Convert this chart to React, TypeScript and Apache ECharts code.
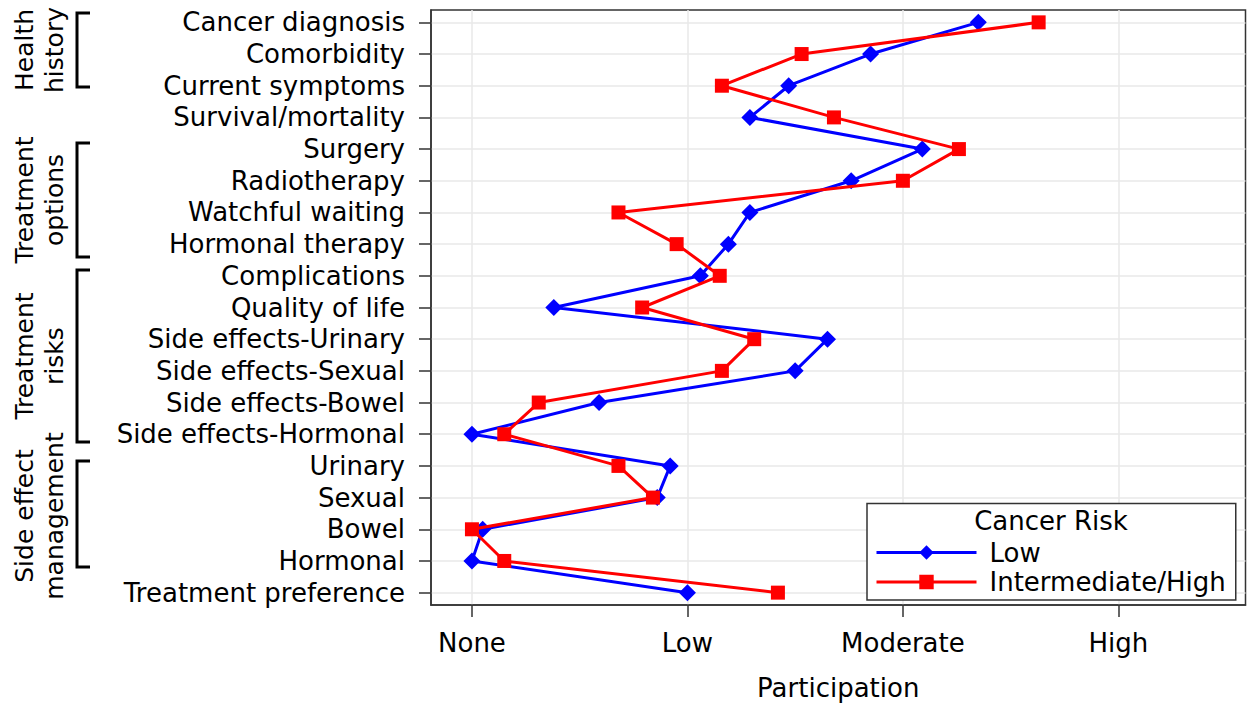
import React, { useEffect, useRef } from "react";
import * as echarts from "echarts";

const categories = [
  "Cancer diagnosis",
  "Comorbidity",
  "Current symptoms",
  "Survival/mortality",
  "Surgery",
  "Radiotherapy",
  "Watchful waiting",
  "Hormonal therapy",
  "Complications",
  "Quality of life",
  "Side effects-Urinary",
  "Side effects-Sexual",
  "Side effects-Bowel",
  "Side effects-Hormonal",
  "Urinary",
  "Sexual",
  "Bowel",
  "Hormonal",
  "Treatment preference",
];

const lowRisk = [2.35, 1.85, 1.47, 1.29, 2.09, 1.76, 1.29, 1.19, 1.06, 0.38, 1.65, 1.5, 0.59, 0.0, 0.92, 0.86, 0.05, 0.0, 1.0];
const highRisk = [2.63, 1.53, 1.16, 1.68, 2.26, 2.0, 0.68, 0.95, 1.15, 0.79, 1.31, 1.16, 0.31, 0.15, 0.68, 0.84, 0.0, 0.15, 1.42];

const xTickValues = [0, 1, 2, 3];
const xTickLabels = ["None", "Low", "Moderate", "High"];

const seriesNames = ["Low", "Intermediate/High"];
const legendTitle = "Cancer Risk";
const xAxisTitle = "Participation";

const groupLabels = ["Health\nhistory", "Treatment\noptions", "Treatment\nrisks", "Side effect\nmanagement"];

const FONT = "'DejaVu Sans', sans-serif";
const FS = 26;

export default function App() {
  const ref = useRef<HTMLDivElement>(null);

  useEffect(() => {
    document.body.style.margin = "0";
    if (!ref.current) return;
    const chart = echarts.init(ref.current, null, { renderer: "svg" });

    const catIdx = categories.map((_, i) => i);
    const lowData = lowRisk.map((v, i) => [v, i]);
    const highData = highRisk.map((v, i) => [v, i]);

    // bracket geometry (annotation layout)
    const brackets = [
      { y1: 13, y2: 87, cy: 50 },
      { y1: 143, y2: 257, cy: 200 },
      { y1: 270, y2: 442, cy: 356 },
      { y1: 461, y2: 567, cy: 516 },
    ];

    const graphics: any[] = [];
    brackets.forEach((b, i) => {
      graphics.push({
        type: "polyline",
        shape: { points: [[90, b.y1], [77, b.y1], [77, b.y2], [90, b.y2]] },
        style: { stroke: "#000", lineWidth: 3, fill: null },
        silent: true,
      });
      graphics.push({
        type: "text",
        x: 39,
        y: b.cy,
        rotation: Math.PI / 2,
        style: {
          text: groupLabels[i],
          fontFamily: FONT,
          fontSize: 25,
          lineHeight: 30,
          fill: "#000",
          align: "center",
          verticalAlign: "middle",
        },
        silent: true,
      });
    });
    graphics.push({
      type: "text",
      x: 1051,
      y: 521,
      z: 100,
      style: {
        text: legendTitle,
        fontFamily: FONT,
        fontSize: FS,
        fill: "#000",
        align: "center",
        verticalAlign: "middle",
      },
      silent: true,
    });

    chart.setOption({
      animation: false,
      backgroundColor: "#fff",
      textStyle: { fontFamily: FONT, color: "#000" },
      grid: {
        left: 431,
        right: 2.5,
        top: 10,
        bottom: 99.3,
        show: true,
        borderColor: "#333",
        borderWidth: 1.5,
        backgroundColor: "#fff",
      },
      xAxis: {
        type: "value",
        min: -0.19,
        max: 3.59,
        name: xAxisTitle,
        nameLocation: "middle",
        nameGap: 70,
        nameTextStyle: { fontFamily: FONT, fontSize: FS, color: "#000" },
        axisLine: { show: true, onZero: false, lineStyle: { color: "#333", width: 1.5 } },
        axisTick: {
          show: true,
          inside: false,
          length: 12,
          lineStyle: { color: "#333", width: 1.5 },
          customValues: xTickValues,
        },
        axisLabel: {
          customValues: xTickValues,
          margin: 25,
          fontFamily: FONT,
          fontSize: FS,
          color: "#000",
          formatter: (v: number) => xTickLabels[xTickValues.indexOf(Math.round(v))] ?? "",
        },
        splitLine: { show: true, lineStyle: { color: "#e8e8e8", width: 1.5 } },
      },
      yAxis: {
        type: "value",
        inverse: true,
        min: -0.39,
        max: 18.39,
        axisLine: { show: true, onZero: false, lineStyle: { color: "#333", width: 1.5 } },
        axisTick: {
          show: true,
          inside: false,
          length: 12,
          lineStyle: { color: "#333", width: 1.5 },
          customValues: catIdx,
        },
        axisLabel: {
          customValues: catIdx,
          margin: 26,
          fontFamily: FONT,
          fontSize: FS,
          color: "#000",
          formatter: (v: number) => categories[Math.round(v)] ?? "",
        },
        splitLine: { show: true, lineStyle: { color: "#e8e8e8", width: 1.5 } },
      },
      legend: {
        orient: "vertical",
        left: 867,
        top: 503.5,
        padding: [36, 10, 5, 8],
        itemWidth: 100,
        itemHeight: 18,
        itemGap: 3.5,
        borderColor: "#333",
        borderWidth: 1.5,
        backgroundColor: "#fff",
        z: 50,
        lineStyle: { width: 3 },
        textStyle: { fontFamily: FONT, fontSize: FS, color: "#000", lineHeight: 26, padding: [0, 0, 0, 8] },
        data: seriesNames,
      },
      graphic: graphics,
      series: [
        {
          name: seriesNames[0],
          type: "line",
          data: lowData,
          symbol: "diamond",
          symbolSize: 17,
          itemStyle: { color: "#0000ff" },
          lineStyle: { color: "#0000ff", width: 3 },
          z: 3,
        },
        {
          name: seriesNames[1],
          type: "line",
          data: highData,
          symbol: "rect",
          symbolSize: 14,
          itemStyle: { color: "#ff0000" },
          lineStyle: { color: "#ff0000", width: 3 },
          z: 4,
        },
      ],
    });

    return () => chart.dispose();
  }, []);

  return <div ref={ref} style={{ width: 1248, height: 706 }} />;
}
